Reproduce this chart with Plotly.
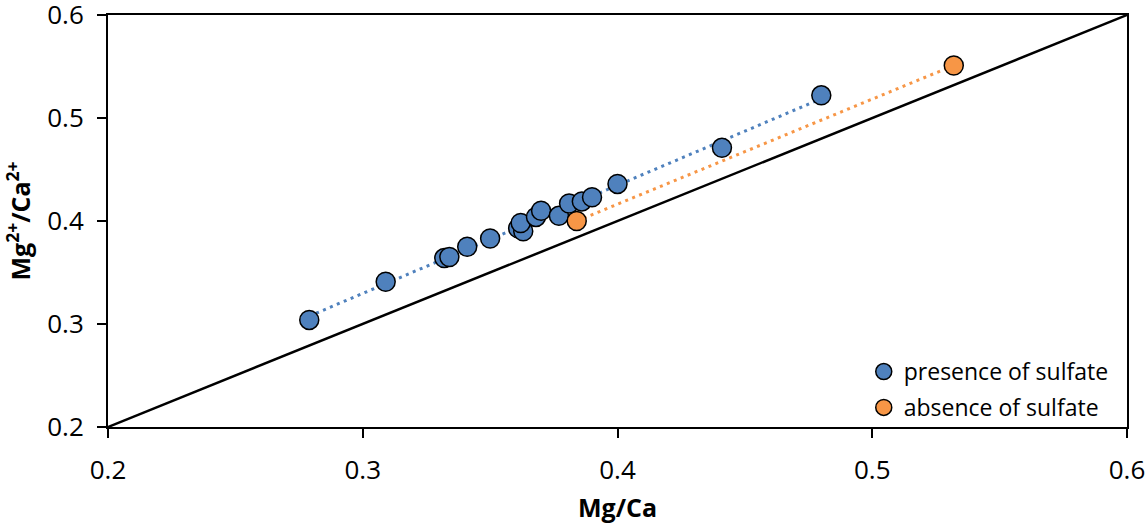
import numpy as np
import plotly.graph_objects as go

# Mg/Ca (solution) vs Mg2+/Ca2+ (free ion) ratios
presence_x = [0.279, 0.309, 0.332, 0.334, 0.341, 0.350, 0.361, 0.363, 0.362,
              0.368, 0.370, 0.377, 0.381, 0.386, 0.390, 0.400, 0.441, 0.480]
presence_y = [0.304, 0.341, 0.364, 0.365, 0.375, 0.383, 0.393, 0.390, 0.398,
              0.404, 0.410, 0.405, 0.417, 0.419, 0.423, 0.436, 0.471, 0.522]
absence_x = [0.384, 0.532]
absence_y = [0.400, 0.551]

BLUE = "#4F81BD"
ORANGE = "#F79646"
FONT = "Open Sans"

fig = go.Figure()

# 1:1 reference line
fig.add_trace(go.Scatter(x=[0.2, 0.6], y=[0.2, 0.6], mode="lines",
                         line=dict(color="black", width=2.5),
                         showlegend=False, hoverinfo="skip"))

# linear trendlines, drawn over each series' x-range
def trend(xs, ys):
    k, b = np.polyfit(xs, ys, 1)
    tx = np.array([min(xs), max(xs)])
    return tx, k * tx + b

for xs, ys, col in [(presence_x, presence_y, BLUE), (absence_x, absence_y, ORANGE)]:
    tx, ty = trend(xs, ys)
    fig.add_trace(go.Scatter(x=tx, y=ty, mode="lines",
                             line=dict(color=col, width=3, dash="3px,4.5px"),
                             showlegend=False, hoverinfo="skip"))

marker_line = dict(color="black", width=1.5)
fig.add_trace(go.Scatter(x=presence_x, y=presence_y, mode="markers",
                         name="presence of sulfate", legendgroup="p",
                         marker=dict(size=19, color=BLUE, line=marker_line)))
fig.add_trace(go.Scatter(x=absence_x, y=absence_y, mode="markers",
                         name="absence of sulfate", legendgroup="a",
                         marker=dict(size=19, color=ORANGE, line=marker_line)))

axis_common = dict(
    showgrid=False, zeroline=False, automargin=False,
    showline=True, linecolor="black", linewidth=2, mirror=True,
    ticks="outside", ticklen=9, tickwidth=2, tickcolor="black",
    tickfont=dict(family=FONT, size=26, color="black"),
    tickformat=".1f", ticklabeloverflow="allow",
)

fig.update_layout(
    width=1148, height=524,
    margin=dict(l=108, r=21, t=15, b=97),
    paper_bgcolor="white", plot_bgcolor="white",
    font=dict(family=FONT, color="black"),
    xaxis=dict(range=[0.2, 0.6], dtick=0.1, tick0=0.2,
               title=dict(text="<b>Mg/Ca</b>", font=dict(family=FONT, size=25),
                          standoff=16),
               ticklabelstandoff=10, **axis_common),
    yaxis=dict(range=[0.2, 0.6], dtick=0.1, tick0=0.2,
               title=dict(text="<b>Mg<sup>2+</sup>/Ca<sup>2+</sup></b>",
                          font=dict(family=FONT, size=25), standoff=12),
               ticklabelstandoff=8, **axis_common),
    legend=dict(x=0.987, y=-0.005, xanchor="right", yanchor="bottom",
                bgcolor="rgba(0,0,0,0)", font=dict(family=FONT, size=23),
                itemwidth=30, traceorder="grouped", tracegroupgap=3),
    showlegend=True,
)

fig.write_html("out.html")
